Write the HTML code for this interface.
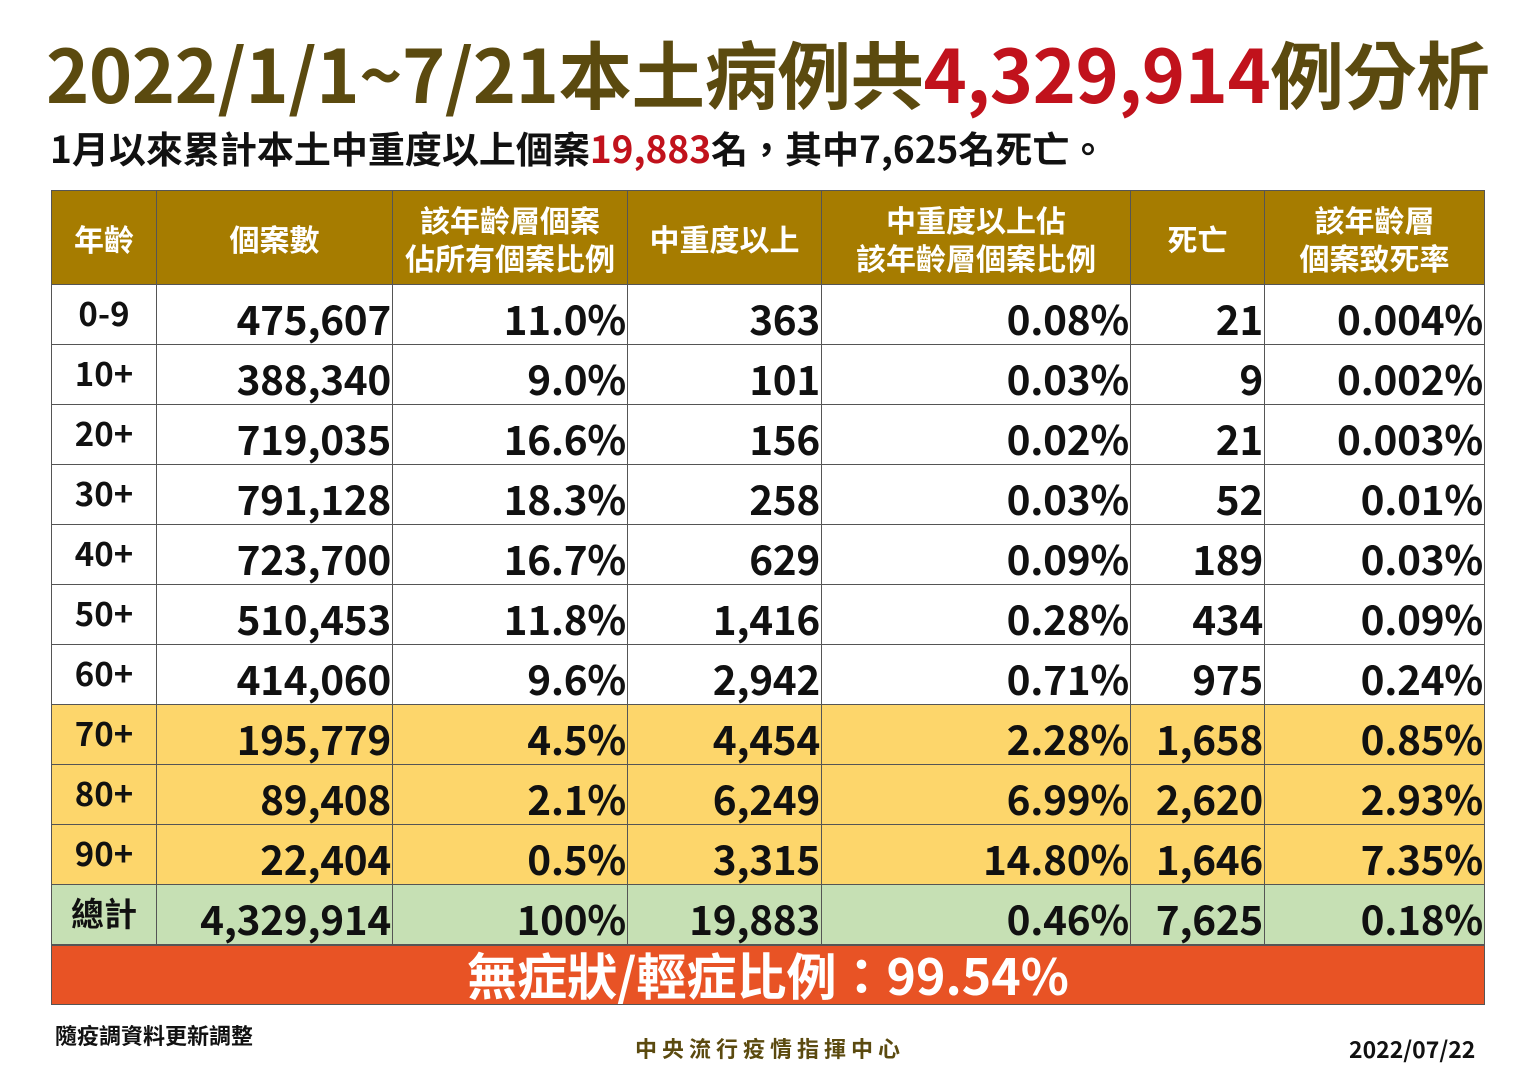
<!DOCTYPE html>
<html><head><meta charset="utf-8"><style>
*{margin:0;padding:0;box-sizing:border-box}
body{width:1536px;height:1086px;background:#fff;position:relative;overflow:hidden;font-family:"Noto Sans CJK TC","Liberation Sans",sans-serif;font-weight:700;color:#111}
.t{position:absolute;white-space:nowrap}
#title{left:46px;top:22px;font-size:73.5px;line-height:100px;color:#5b4a0f;letter-spacing:-0.5px}
#title span{color:#c1121c}
#sub{left:50px;top:123px;font-size:37px;line-height:48px;color:#111}
#sub span{color:#c1121c}
.c{position:absolute;border-right:1.5px solid #555;border-bottom:1.5px solid #555}
.h{background:#a67c00;color:#fff;font-size:30px;line-height:38px;display:flex;align-items:center;justify-content:center;text-align:center}
.a{display:flex;justify-content:center;font-size:33px;padding-top:3px}
.n{text-align:right;font-size:40.5px;line-height:60px;padding-top:3px;padding-right:1px;letter-spacing:-0.3px}
</style></head><body>
<div class="t" id="title">2022/1/1~7/21本土病例共<span>4,329,914</span>例分析</div>
<div class="t" id="sub">1月以來累計本土中重度以上個案<span>19,883</span>名，其中7,625名死亡。</div>
<div id="tbl"></div>
<div class="t" style="left:51px;top:945px;width:1434px;height:60px;background:#e85325;border:1.5px solid #555;color:#fff;font-size:50px;line-height:56px;text-align:center">無症狀/輕症比例：99.54%</div>
<div class="t" style="left:55px;top:1020px;font-size:22px;line-height:30px">隨疫調資料更新調整</div>
<div class="t" style="left:635px;top:1033px;font-size:22px;line-height:30px;color:#5b4a0f;letter-spacing:5px">中央流行疫情指揮中心</div>
<div class="t" style="left:1349px;top:1033px;font-size:23px;line-height:30px">2022/07/22</div>
<script>
var xs=[51,157,393,628,822,1131,1265,1485];
var hd=["年齡","個案數","該年齡層個案<br>佔所有個案比例","中重度以上","中重度以上佔<br>該年齡層個案比例","死亡","該年齡層<br>個案致死率"];
var rows=[
["0-9","475,607","11.0%","363","0.08%","21","0.004%"],
["10+","388,340","9.0%","101","0.03%","9","0.002%"],
["20+","719,035","16.6%","156","0.02%","21","0.003%"],
["30+","791,128","18.3%","258","0.03%","52","0.01%"],
["40+","723,700","16.7%","629","0.09%","189","0.03%"],
["50+","510,453","11.8%","1,416","0.28%","434","0.09%"],
["60+","414,060","9.6%","2,942","0.71%","975","0.24%"],
["70+","195,779","4.5%","4,454","2.28%","1,658","0.85%"],
["80+","89,408","2.1%","6,249","6.99%","2,620","2.93%"],
["90+","22,404","0.5%","3,315","14.80%","1,646","7.35%"],
["總計","4,329,914","100%","19,883","0.46%","7,625","0.18%"]];
var h="";
for(var i=0;i<7;i++){var w=xs[i+1]-xs[i];
h+='<div class="c h" style="left:'+xs[i]+'px;top:190px;width:'+w+'px;height:95px;border-top:1.5px solid #555;'+(i==0?'border-left:1.5px solid #555;':'')+'">'+hd[i]+'</div>';}
for(var r=0;r<rows.length;r++){var y=285+r*60;var bg=r>=10?'#c6e0b4':(r>=7?'#fdd66b':'#fff');
for(var i=0;i<7;i++){var w=xs[i+1]-xs[i];
h+='<div class="c '+(i==0?'a':'n')+'" style="left:'+xs[i]+'px;top:'+y+'px;width:'+w+'px;height:60px;background:'+bg+';'+(i==0?'border-left:1.5px solid #555;':'')+'">'+rows[r][i]+'</div>';}}
document.getElementById('tbl').innerHTML=h;
</script>
</body></html>
